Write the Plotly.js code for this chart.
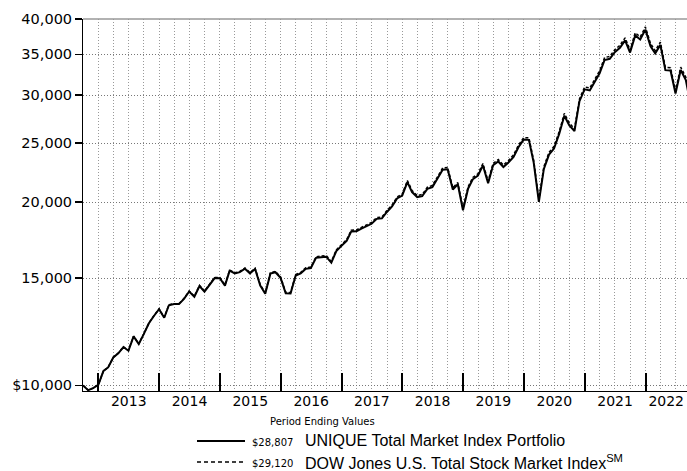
<!DOCTYPE html>
<html>
<head>
<meta charset="utf-8">
<script src="https://cdn.plot.ly/plotly-3.0.1.min.js"></script>
<style>html,body{margin:0;padding:0;background:#fff;}#chart{width:687px;height:471px;}</style>
</head>
<body>
<div id="chart"></div>
<script>
// Period: month-end values, Sep 2012 .. Sep 2022 (hypothetical $10,000)
var startYear = 2012, startMonth = 9; // September
var fundName = "UNIQUE Total Market Index Portfolio";
var indexName = "DOW Jones U.S. Total Stock Market Index";
var fund = [10000,9822,9897,10020,10561,10702,11114,11291,11562,11401,12039,11694,12141,12651,13002,13340,
12916,13541,13603,13602,13886,14263,13985,14566,14257,14647,15006,15001,
14588,15432,15272,15348,15548,15278,15533,14590,14150,15263,15345,15024,
14171,14162,15153,15280,15548,15584,16201,16242,16274,15909,16625,16953,
17280,17907,17916,18097,18268,18431,18777,18811,19272,19686,20283,20504,
21581,20781,20392,20466,21038,21177,21874,22622,22656,20985,21400,19405,
21067,21810,22113,22987,21496,22999,23333,22847,23245,23742,24640,25342,
25319,23233,20030,22686,23949,24502,25889,27747,26741,26185,29311,30650,
30533,31476,32584,34249,34409,35274,35866,36888,35232,37599,37009,38429,
36079,35123,36271,32964,32924,30169,32986,31759,28807];
var index = [10000,9823,9899,10023,10565,10706,11120,11298,11570,11410,12049,11705,12154,12666,13018,13358,
12934,13562,13625,13625,13910,14289,14012,14595,14288,14679,15041,15037,
14625,15471,15312,15390,15592,15322,15580,14636,14195,15313,15397,15076,
14222,14213,15210,15339,15609,15646,16267,16310,16344,15979,16699,17030,
17360,17991,18003,18186,18360,18525,18874,18910,19375,19794,20395,20620,
21704,20901,20512,20589,21166,21307,22011,22766,22802,21122,21542,19535,
21210,21961,22268,23150,21650,23167,23504,23017,23420,23923,24830,25540,
25519,23418,20192,22872,24147,24706,26108,27984,26971,26413,29569,30923,
30808,31762,32883,34566,34732,35607,36208,37244,35575,37968,37376,38814,
36443,35481,36644,33306,33269,30488,33337,32101,29120];
var yTickVals = [10000,15000,20000,25000,30000,35000,40000];
var yTickText = ["$10,000","15,000","20,000","25,000","30,000","35,000","40,000"];
var yearLabels = ["2013","2014","2015","2016","2017","2018","2019","2020","2021","2022"];
var xRange = ["2012-09-30", "2022-09-07"];

function monthEnd(i){
  var d = new Date(Date.UTC(startYear, startMonth - 1 + i + 1, 0));
  return d.toISOString().slice(0,10);
}
var dates = fund.map(function(_, i){ return monthEnd(i); });
function money(v){ return "$" + v.toLocaleString("en-US"); }

// year label positions: middle of the visible part of each year
var r0 = Date.parse(xRange[0]), r1 = Date.parse(xRange[1]);
var yearMids = yearLabels.map(function(y){
  var a = Math.max(Date.UTC(+y,0,1), r0), b = Math.min(Date.UTC(+y+1,0,1), r1);
  return new Date((a+b)/2).toISOString().slice(0,10);
});

var traces = [
  {x: dates, y: fund, type: "scatter", mode: "lines", name: fundName,
   line: {color: "#000", width: 2}, hoverinfo: "skip"},
  {x: dates, y: index, type: "scatter", mode: "lines", name: indexName,
   line: {color: "#000", width: 1.5, dash: "3px,2px"}, hoverinfo: "skip"},
  {x: [], y: [], xaxis: "x2", type: "scatter", mode: "lines", showlegend: false, hoverinfo: "skip"}
];

// legend built from the series (line keys + ending values)
function px2x(p){ return (p - 83) / 604; }
function py2y(p){ return (391 - p) / 372; }
var legendRows = [
  {y: 441, dash: "solid", width: 2, value: money(fund[fund.length-1]), name: fundName},
  {y: 462, dash: "4px,3px", width: 1.5, value: money(index[index.length-1]), name: indexName + "<sup>SM</sup>"}
];
var shapes = [
  {type: "line", xref: "paper", yref: "paper", x0: 0, x1: 1, y0: 1, y1: 1, line: {color: "#999", width: 1.5}}
];
var annotations = [
  {text: "Period Ending Values", xref: "paper", yref: "paper", x: px2x(322), y: py2y(421),
   xanchor: "center", yanchor: "middle", showarrow: false,
   font: {family: "DejaVu Sans", size: 10, color: "#000"}}
];
legendRows.forEach(function(r){
  shapes.push({type: "line", xref: "paper", yref: "paper", x0: px2x(197), x1: px2x(245),
    y0: py2y(r.y), y1: py2y(r.y), line: {color: "#000", width: r.width, dash: r.dash}});
  annotations.push({text: r.value, xref: "paper", yref: "paper", x: px2x(250), y: py2y(r.y + 1),
    xanchor: "left", yanchor: "middle", showarrow: false,
    font: {family: "DejaVu Sans", size: 10, color: "#000"}});
  annotations.push({text: r.name, xref: "paper", yref: "paper", x: px2x(303), y: py2y(r.y),
    xanchor: "left", yanchor: "middle", showarrow: false,
    font: {family: "Liberation Sans, Arial", size: 16, color: "#000"}});
});

var layout = {
  width: 687, height: 471,
  margin: {l: 83, r: 0, t: 19, b: 80},
  paper_bgcolor: "#fff", plot_bgcolor: "#fff",
  showlegend: false,
  font: {family: "DejaVu Sans", color: "#000", size: 14},
  xaxis: {
    type: "date", range: xRange,
    tickmode: "linear", tick0: "2013-01-01", dtick: "M12",
    showticklabels: false,
    ticks: "inside", ticklen: 18, tickwidth: 2, tickcolor: "#000",
    showgrid: true, gridcolor: "#999", griddash: "1px,2px", gridwidth: 1,
    minor: {tick0: "2012-10-01", dtick: "M3", showgrid: true, gridcolor: "#999", griddash: "1px,2px", gridwidth: 1, ticks: ""},
    showline: true, linecolor: "#000", linewidth: 1,
    zeroline: false, fixedrange: true
  },
  xaxis2: {
    type: "date", range: xRange, overlaying: "x", anchor: "y", side: "bottom",
    tickmode: "array", tickvals: yearMids, ticktext: yearLabels,
    ticks: "", showgrid: false, showline: false, zeroline: false,
    tickfont: {family: "DejaVu Sans", size: 14, color: "#000"},
    fixedrange: true
  },
  yaxis: {
    type: "log",
    range: [Math.log10(9790), Math.log10(40000)],
    tickmode: "array", tickvals: yTickVals, ticktext: yTickText,
    ticks: "outside", ticklen: 7, tickwidth: 1.5, tickcolor: "#000",
    tickfont: {family: "DejaVu Sans", size: 14.5, color: "#000"},
    showgrid: true, gridcolor: "#777", griddash: "1px,2px", gridwidth: 1,
    showline: true, linecolor: "#000", linewidth: 1,
    zeroline: false, fixedrange: true
  },
  shapes: shapes,
  annotations: annotations
};

Plotly.newPlot("chart", traces, layout, {displayModeBar: false, staticPlot: true});
</script>
</body>
</html>
